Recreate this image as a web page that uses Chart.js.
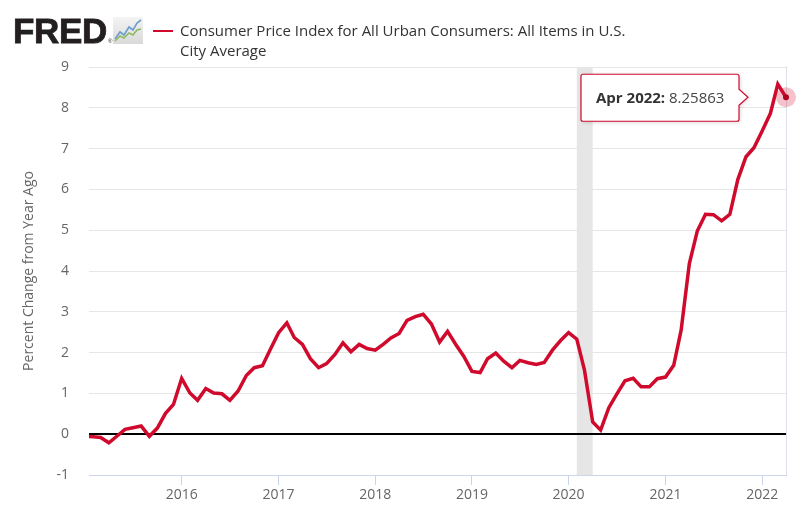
<!DOCTYPE html>
<html>
<head>
<meta charset="utf-8">
<script src="https://cdn.jsdelivr.net/npm/chart.js@4/dist/chart.umd.min.js"></script>
<style>
  html, body { margin: 0; padding: 0; background: #fff; }
  #wrap { position: relative; width: 802px; height: 516px; overflow: hidden; }
  #chart { position: absolute; left: 0; top: 0; }
  #logo { position: absolute; left: 13px; top: 9px; font-family: "Liberation Sans", Arial, sans-serif; font-weight: 900; font-size: 35px; color: #231f20; letter-spacing: -0.3px; line-height: 44px; -webkit-text-stroke: 0.8px #231f20; }
  #logo sup { font-size: 6px; font-weight: normal; vertical-align: baseline; position: relative; top: 0px; left: 1px; -webkit-text-stroke: 0; }
  #icon { position: absolute; left: 113px; top: 17px; }
  #legend { position: absolute; left: 153px; top: 20px; font-family: "Open Sans", sans-serif; font-size: 15px; color: #333; line-height: 20px; }
  #legend .swatch { position: absolute; left: 0; top: 10px; width: 20px; height: 2px; background: #cf0a2c; }
  #legend .txt { margin-left: 27px; white-space: nowrap; }
</style>
</head>
<body>
<div id="wrap">
  <canvas id="chart" width="802" height="516"></canvas>
  <div id="logo">FRED<sup>®</sup></div>
  <svg id="icon" width="30" height="27" viewBox="0 0 30 27">
    <defs>
      <linearGradient id="g" x1="0" y1="0" x2="0" y2="1">
        <stop offset="0" stop-color="#f4f4f4"/>
        <stop offset="1" stop-color="#d9d9d9"/>
      </linearGradient>
    </defs>
    <rect x="0" y="0" width="30" height="27" fill="url(#g)"/>
    <polyline points="2,22 7,15 11,18 16,10 20,13 24,6 28,3" fill="none" stroke="#6e9ccf" stroke-width="1.6"/>
    <polyline points="2,24 7,19 11,21 16,16 20,18 24,13 28,12" fill="none" stroke="#8fb95f" stroke-width="1.6"/>
  </svg>
  <div id="legend"><span class="swatch"></span><div class="txt">Consumer Price Index for All Urban Consumers: All Items in U.S.</div><div class="txt">City Average</div></div>
</div>
<script>
// ---- Data ----
const months = [
  '2015-01','2015-02','2015-03','2015-04','2015-05','2015-06','2015-07','2015-08','2015-09','2015-10','2015-11','2015-12',
  '2016-01','2016-02','2016-03','2016-04','2016-05','2016-06','2016-07','2016-08','2016-09','2016-10','2016-11','2016-12',
  '2017-01','2017-02','2017-03','2017-04','2017-05','2017-06','2017-07','2017-08','2017-09','2017-10','2017-11','2017-12',
  '2018-01','2018-02','2018-03','2018-04','2018-05','2018-06','2018-07','2018-08','2018-09','2018-10','2018-11','2018-12',
  '2019-01','2019-02','2019-03','2019-04','2019-05','2019-06','2019-07','2019-08','2019-09','2019-10','2019-11','2019-12',
  '2020-01','2020-02','2020-03','2020-04','2020-05','2020-06','2020-07','2020-08','2020-09','2020-10','2020-11','2020-12',
  '2021-01','2021-02','2021-03','2021-04','2021-05','2021-06','2021-07','2021-08','2021-09','2021-10','2021-11','2021-12',
  '2022-01','2022-02','2022-03','2022-04'
];
const cpiChange = [
  -0.05, -0.06, -0.08, -0.21, -0.05, 0.12, 0.16, 0.20, -0.05, 0.15, 0.51, 0.73,
  1.37, 1.01, 0.83, 1.12, 1.01, 0.99, 0.83, 1.06, 1.44, 1.63, 1.68, 2.08,
  2.49, 2.73, 2.37, 2.20, 1.85, 1.63, 1.73, 1.95, 2.24, 2.02, 2.20, 2.10,
  2.06, 2.21, 2.36, 2.47, 2.79, 2.88, 2.94, 2.70, 2.26, 2.52, 2.20, 1.91,
  1.54, 1.51, 1.85, 1.99, 1.79, 1.63, 1.81, 1.75, 1.71, 1.76, 2.06, 2.29,
  2.49, 2.33, 1.57, 0.30, 0.10, 0.65, 0.98, 1.31, 1.37, 1.16, 1.16, 1.36,
  1.40, 1.69, 2.55, 4.18, 4.98, 5.39, 5.38, 5.23, 5.39, 6.24, 6.80, 7.02,
  7.43, 7.86, 8.58, 8.25863
];
const tickYears = [2016, 2017, 2018, 2019, 2020, 2021, 2022];
const yTicks = [-1, 0, 1, 2, 3, 4, 5, 6, 7, 8, 9];
const recessions = [['2020-02-01', '2020-04-01']];
const seriesName = 'Consumer Price Index for All Urban Consumers: All Items in U.S. City Average';
const highlightLabel = 'Apr 2022';
const xRange = ['2015-01-16', '2022-04-01'];

// ---- helpers ----
const DAY = 86400000;
function toDays(s) {
  const p = s.split('-').map(Number);
  return Date.UTC(p[0], p[1] - 1, p[2] || 1) / DAY;
}
const points = months.map((m, i) => ({ x: toDays(m), y: cpiChange[i] }));
const RED = '#cf0a2c';
const FONT = '"Open Sans", sans-serif';

const extras = {
  id: 'extras',
  beforeDraw(chart) {
    const { ctx, chartArea: a, scales: { x } } = chart;
    ctx.save();
    ctx.fillStyle = '#e6e6e6';
    recessions.forEach(([s, e]) => {
      const x0 = x.getPixelForValue(toDays(s));
      const x1 = x.getPixelForValue(toDays(e));
      ctx.fillRect(x0, a.top, x1 - x0, a.bottom - a.top);
    });
    ctx.restore();
  },
  afterDatasetsDraw(chart) {
    const { ctx, chartArea: a } = chart;
    ctx.save();
    ctx.strokeStyle = '#dde1e8';
    ctx.lineWidth = 1;
    ctx.beginPath();
    ctx.moveTo(Math.round(a.right) + 0.5, a.top - 1);
    ctx.lineTo(Math.round(a.right) + 0.5, a.bottom);
    ctx.stroke();
    ctx.restore();
  },
  afterDraw(chart) {
    const { ctx } = chart;
    const meta = chart.getDatasetMeta(0);
    const last = meta.data[meta.data.length - 1];
    const px = last.x, py = last.y;
    ctx.save();
    // halo + dot
    ctx.fillStyle = 'rgba(207,10,44,0.25)';
    ctx.beginPath(); ctx.arc(px, py, 10, 0, Math.PI * 2); ctx.fill();
    ctx.fillStyle = '#b00020';
    ctx.beginPath(); ctx.arc(px, py, 3, 0, Math.PI * 2); ctx.fill();
    // tooltip
    const bx0 = px - 205, bx1 = px - 47, by0 = py - 23, by1 = py + 24;
    const tipX = px - 38;
    ctx.shadowColor = 'rgba(0,0,0,0.18)';
    ctx.shadowBlur = 4; ctx.shadowOffsetX = 1; ctx.shadowOffsetY = 1;
    ctx.fillStyle = '#fff';
    ctx.beginPath();
    ctx.moveTo(bx0 + 2, by0);
    ctx.lineTo(bx1 - 2, by0);
    ctx.quadraticCurveTo(bx1, by0, bx1, by0 + 2);
    ctx.lineTo(bx1, py - 8);
    ctx.lineTo(tipX, py);
    ctx.lineTo(bx1, py + 8);
    ctx.lineTo(bx1, by1 - 2);
    ctx.quadraticCurveTo(bx1, by1, bx1 - 2, by1);
    ctx.lineTo(bx0 + 2, by1);
    ctx.quadraticCurveTo(bx0, by1, bx0, by1 - 2);
    ctx.lineTo(bx0, by0 + 2);
    ctx.quadraticCurveTo(bx0, by0, bx0 + 2, by0);
    ctx.closePath();
    ctx.fill();
    ctx.shadowColor = 'transparent';
    ctx.strokeStyle = RED;
    ctx.lineWidth = 1.2;
    ctx.stroke();
    ctx.textBaseline = 'middle';
    ctx.textAlign = 'left';
    ctx.fillStyle = '#333';
    ctx.font = 'bold 15px ' + FONT;
    const lbl = highlightLabel + ':';
    ctx.fillText(lbl, bx0 + 15, py + 1);
    const w = ctx.measureText(lbl).width;
    ctx.font = '15px ' + FONT;
    ctx.fillStyle = '#444';
    ctx.fillText(' ' + String(cpiChange[cpiChange.length - 1]), bx0 + 15 + w, py + 1);
    ctx.restore();
  }
};

new Chart(document.getElementById('chart'), {
  type: 'line',
  data: {
    datasets: [{
      label: seriesName,
      data: points,
      borderColor: RED,
      borderWidth: 3.5,
      pointRadius: 0,
      pointHoverRadius: 0,
      tension: 0,
      fill: false
    }]
  },
  options: {
    responsive: false,
    animation: false,
    events: [],
    layout: { padding: { top: 67, left: 0, right: 16, bottom: 0 } },
    plugins: { legend: { display: false }, tooltip: { enabled: false } },
    scales: {
      x: {
        type: 'linear',
        min: toDays(xRange[0]),
        max: toDays(xRange[1]),
        afterBuildTicks(scale) {
          scale.ticks = tickYears.map(y => ({ value: toDays(y + '-01-01') }));
        },
        afterFit(scale) { scale.height = 41; },
        ticks: {
          autoSkip: false,
          maxRotation: 0,
          padding: 2,
          color: '#666',
          font: { family: FONT, size: 14 },
          callback: (v, i) => String(tickYears[i])
        },
        grid: { drawOnChartArea: false, drawTicks: true, tickLength: 10, color: '#ccd6eb' },
        border: { display: true, color: '#ccd6eb', width: 1 }
      },
      y: {
        min: yTicks[0],
        max: yTicks[yTicks.length - 1],
        afterBuildTicks(scale) { scale.ticks = yTicks.map(v => ({ value: v })); },
        afterFit(scale) { scale.width = 89; },
        ticks: {
          padding: 20,
          color: '#666',
          font: { family: FONT, size: 14 },
          callback: v => String(v)
        },
        grid: {
          drawTicks: false,
          color: ctx => (ctx.tick && ctx.tick.value === 0) ? '#000' : '#e6e6e6',
          lineWidth: ctx => (ctx.tick && ctx.tick.value === 0) ? 2 : 1
        },
        border: { display: false },
        title: {
          display: true,
          text: 'Percent Change from Year Ago',
          color: '#666',
          font: { family: FONT, size: 14 },
          padding: { top: 21, bottom: 0 }
        }
      }
    }
  },
  plugins: [extras]
});
</script>
</body>
</html>
